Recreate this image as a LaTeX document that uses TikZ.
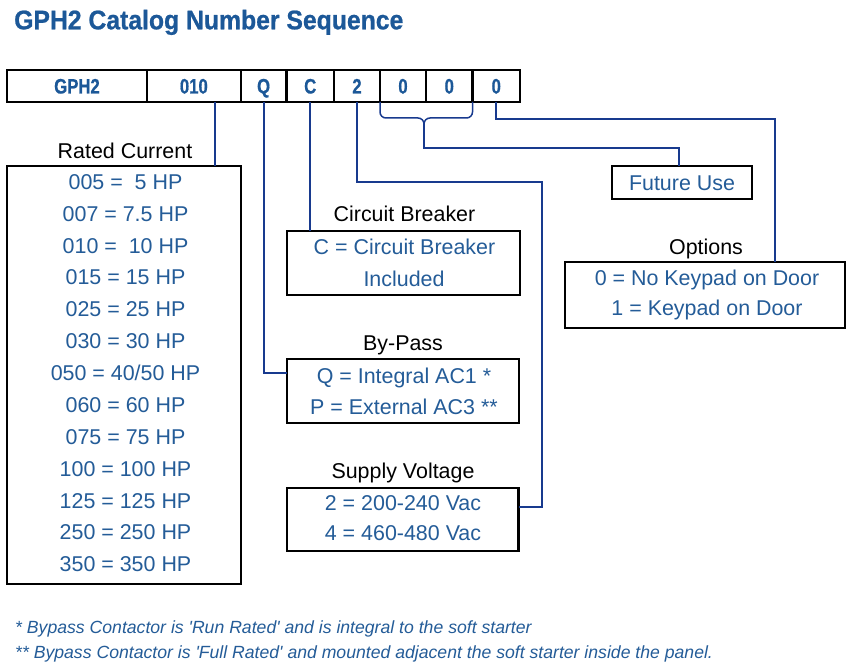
\documentclass[tikz,border=0pt]{standalone}
\usepackage{graphicx}
\usepackage{fontspec}
\setmainfont{Liberation Sans}
\newfontfamily\notefont{Liberation Sans}
\newfontfamily\heavyfont{Liberation Sans Bold}[FakeBold=0.8]
\definecolor{textblue}{RGB}{36,92,152}
\definecolor{titleblue}{RGB}{28,88,152}
\definecolor{lineblue}{RGB}{24,58,142}
\tikzset{
  box/.style={draw=black, line width=2.4bp, inner sep=0pt, outer sep=0pt},
  cell/.style={box, minimum height=31.7bp, text height=15bp, text depth=0pt,
    text=titleblue, font=\heavyfont\fontsize{21}{24}\selectfont},
  conn/.style={draw=lineblue, line width=2bp},
  bracestyle/.style={draw=lineblue, line width=1.5bp, rounded corners=6bp},
  txt/.style={font=\fontsize{21.5}{24}\selectfont, text=textblue, inner sep=0pt, anchor=base},
  lbl/.style={font=\fontsize{21.5}{24}\selectfont, text=black, inner sep=0pt, anchor=base},
  note/.style={font=\notefont\fontsize{17.7}{20}\selectfont\itshape, text=textblue, inner sep=0pt, anchor=base west},
}
\newcommand{\cx}[1]{\scalebox{0.8}[1]{#1}}
\begin{document}
\begin{tikzpicture}[x=1bp,y=1bp]
\path[use as bounding box, fill=white] (0,0) rectangle (850,-669);

% title
\node[anchor=base west, inner sep=0pt, text=titleblue, font=\heavyfont\fontsize{27}{30}\selectfont] (title) at (14,-29.3) {\scalebox{0.92}[1]{GPH2 Catalog Number Sequence}};

% top bar cells
\node[cell, minimum width=140bp]  (c1) at (77,-86)    {\cx{GPH2}};
\node[cell, minimum width=93.7bp] (c2) at (193.85,-86) {\cx{010}};
\node[cell, minimum width=45.8bp] (c3) at (263.6,-86) {\cx{Q}};
\node[cell, minimum width=47.5bp] (c4) at (310.25,-86) {\cx{C}};
\node[cell, minimum width=46bp]   (c5) at (357,-86)   {\cx{2}};
\node[cell, minimum width=46bp]   (c6) at (403,-86)   {\cx{0}};
\node[cell, minimum width=46.5bp] (c7) at (449.25,-86) {\cx{0}};
\node[cell, minimum width=47.5bp] (c8) at (496.25,-86) {\cx{0}};

% Rated current
\node[lbl] (rcl) at (125,-158.3) {Rated Current};
\node[box, minimum width=233.4bp, minimum height=418bp] (rc) at (124,-375) {};
\foreach \t [count=\i] in {005 =~~5 HP, 007 = 7.5 HP, 010 =~~10 HP, 015 = 15 HP, 025 = 25 HP, 030 = 30 HP, 050 = 40/50 HP, 060 = 60 HP, 075 = 75 HP, 100 = 100 HP, 125 = 125 HP, 250 = 250 HP, 350 = 350 HP}
  \node[txt] (r\i) at (125.5,{-189.3-31.87*(\i-1)}) {\t};

% Circuit breaker
\node[lbl] (cbl) at (404.5,-221.7) {Circuit Breaker};
\node[box, minimum width=233bp, minimum height=64.3bp] (cb) at (403.5,-262.9) {};
\node[txt] (cb1) at (404.5,-254) {C = Circuit Breaker};
\node[txt] (cb2) at (404,-286) {Included};

% By-pass
\node[lbl] (bpl) at (403,-350) {By-Pass};
\node[box, minimum width=232.3bp, minimum height=63.7bp] (bp) at (402.85,-390.85) {};
\node[txt] (bp1) at (404,-383) {Q = Integral AC1 *};
\node[txt] (bp2) at (404,-414) {P = External AC3 **};

% Supply voltage
\node[lbl] (svl) at (403,-478) {Supply Voltage};
\node[box, minimum width=231.8bp, minimum height=63.3bp] (sv) at (402.6,-519.35) {};
\node[txt] (sv1) at (403,-510) {2 = 200-240 Vac};
\node[txt] (sv2) at (403,-540) {4 = 460-480 Vac};

% Future use
\node[box, minimum width=140bp, minimum height=33bp] (fu) at (682,-182.5) {};
\node[txt] (fut) at (682,-190) {Future Use};

% Options
\node[lbl] (opl) at (706,-254) {Options};
\node[box, minimum width=280bp, minimum height=66bp] (op) at (705,-295) {};
\node[txt] (op1) at (707,-285) {0 = No Keypad on Door};
\node[txt] (op2) at (707,-315) {1 = Keypad on Door};

% connectors
\draw[conn] ([xshift=21bp]c2.south) -- ([xshift=21bp]c2.south |- rc.north);
\draw[conn] (c3.south) |- ([yshift=18.2bp]bp.west);
\draw[conn] (c4.south) -- (c4.south |- cb.north);
\coordinate (k2) at (542,-182);
\draw[conn] (c5.south) |- (k2) |- ([yshift=12.7bp]sv.east);
\coordinate (bm) at (424,-118);
\draw[bracestyle] (c6.south west) |- (bm) -- ++(0,-12);
\draw[bracestyle] (c7.south east) |- (bm) -- ++(0,-12);
\draw[conn] ([yshift=-4bp]bm) -- ++(0,-26) -| ([xshift=-3bp]fu.north);
\coordinate (k8) at (775,-119.5);
\draw[conn] (c8.south) |- (k8) -- (k8 |- op.north);

% footnotes
\node[note] (n1) at (15,-633.3) {* Bypass Contactor is 'Run Rated' and is integral to the soft starter};
\node[note] (n2) at (15,-658.3) {** Bypass Contactor is 'Full Rated' and mounted adjacent the soft starter inside the panel.};
\end{tikzpicture}
\end{document}
